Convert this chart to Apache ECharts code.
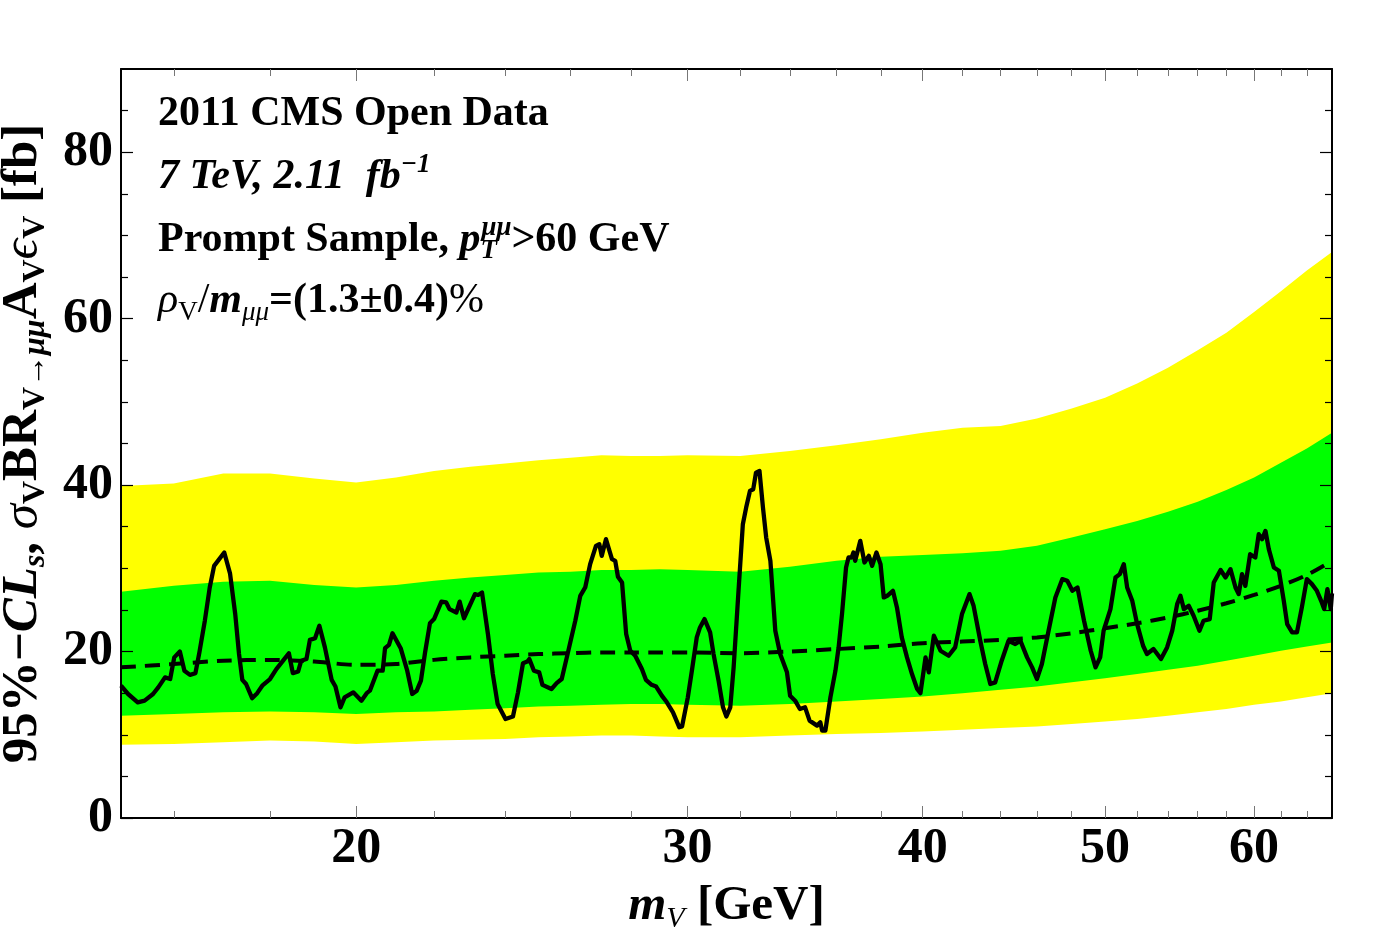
<!DOCTYPE html>
<html><head><meta charset="utf-8">
<script src="https://cdn.jsdelivr.net/npm/echarts@6/dist/echarts.min.js"></script>
<style>html,body{margin:0;padding:0;background:#fff}#c{width:1396px;height:938px}</style>
</head><body><div id="c"></div>
<script>
// ---------------- data ----------------
const bandMass   = [15,16,17,18,19,20,21,22,23,24,25,26,27,28,29,30,32,34,36,38,40,42,44,46,48,50,52,54,56,58,60,62,64,66];
const yellowLow  = [8.8,8.9,9.1,9.3,9.2,8.9,9.1,9.3,9.4,9.5,9.7,9.8,9.9,9.9,9.8,9.7,9.7,9.9,10.1,10.2,10.4,10.6,10.8,11.0,11.3,11.6,11.9,12.3,12.7,13.1,13.6,14.0,14.5,15.0];
const greenLow   = [12.3,12.5,12.7,12.8,12.7,12.5,12.7,12.8,13.0,13.2,13.4,13.5,13.6,13.7,13.7,13.6,13.5,13.7,14.0,14.3,14.6,15.0,15.4,15.8,16.3,16.8,17.3,17.8,18.3,18.9,19.5,20.1,20.6,21.1];
const greenHigh  = [27.2,27.9,28.4,28.5,28.0,27.7,28.0,28.5,28.9,29.2,29.5,29.6,29.8,29.8,29.9,29.8,29.6,30.2,30.9,31.4,31.6,31.8,32.1,32.7,33.7,34.7,35.7,36.8,38.0,39.4,40.9,42.7,44.4,46.3];
const yellowHigh = [39.9,40.2,41.4,41.4,40.8,40.3,40.9,41.7,42.2,42.6,43.0,43.3,43.6,43.5,43.5,43.6,43.5,44.1,44.8,45.5,46.3,46.9,47.1,48.0,49.2,50.5,52.2,54.1,56.2,58.3,60.8,63.3,65.8,68.0];
const expected   = [18.1,18.5,18.9,19.0,18.8,18.4,18.5,19.0,19.3,19.5,19.7,19.8,19.9,19.9,19.9,19.9,19.8,20.0,20.3,20.6,21.0,21.2,21.4,21.7,22.2,22.8,23.4,24.1,24.9,25.8,26.8,27.9,29.2,30.9];

const obsMass = [15.00,15.13,15.31,15.44,15.60,15.70,15.83,15.93,16.01,16.12,16.21,16.32,16.43,16.51,16.62,16.72,16.81,17.02,17.14,17.25,17.33,17.40,17.48,17.61,17.72,17.83,18.00,18.14,18.29,18.42,18.51,18.63,18.70,18.82,18.90,19.02,19.12,19.25,19.41,19.50,19.62,19.72,19.93,20.13,20.26,20.34,20.53,20.66,20.72,20.82,20.91,21.12,21.29,21.42,21.54,21.65,21.76,21.89,22.00,22.20,22.33,22.42,22.61,22.70,22.82,23.13,23.22,23.33,23.50,23.64,23.78,24.01,24.23,24.38,24.53,24.66,24.72,24.86,25.02,25.12,25.40,25.56,25.72,25.88,26.15,26.31,26.47,26.63,26.82,26.93,27.01,27.15,27.35,27.46,27.55,27.69,27.83,27.97,28.14,28.37,28.51,28.71,28.87,29.07,29.25,29.47,29.70,29.80,30.01,30.16,30.34,30.46,30.63,30.84,30.97,31.16,31.33,31.46,31.61,31.74,31.93,32.10,32.23,32.38,32.51,32.62,32.76,32.90,33.03,33.20,33.40,33.60,33.88,34.01,34.22,34.42,34.64,34.83,35.15,35.29,35.37,35.51,35.73,35.95,36.09,36.24,36.42,36.53,36.67,36.75,36.83,37.06,37.25,37.45,37.60,37.80,37.99,38.14,38.30,38.57,38.76,38.99,39.24,39.48,39.73,39.89,40.14,40.30,40.55,40.88,41.29,41.62,41.97,42.36,42.57,42.92,43.18,43.45,43.71,44.06,44.43,44.80,45.08,45.45,45.73,46.00,46.28,46.66,47.05,47.45,47.74,48.04,48.34,48.73,49.13,49.42,49.70,49.91,50.33,50.64,50.91,51.16,51.37,51.69,52.00,52.38,52.63,53.05,53.54,53.94,54.28,54.61,54.83,55.06,55.39,55.72,56.12,56.40,56.83,57.11,57.59,57.94,58.29,58.65,58.88,59.12,59.36,59.71,60.09,60.34,60.59,60.84,61.09,61.47,61.85,62.22,62.48,62.86,63.23,63.61,64.00,64.40,64.79,65.18,65.37,65.63,65.90,66.00];
const obsValue = [15.9,14.9,13.9,14.1,14.9,15.7,16.9,16.7,19.3,20.0,17.7,17.2,17.4,19.9,23.7,27.7,30.3,31.9,29.4,24.5,19.7,16.6,16.1,14.4,15.0,15.9,16.7,17.9,18.9,19.8,17.4,17.6,18.9,19.1,21.4,21.6,23.1,20.5,16.6,15.8,13.3,14.5,15.1,14.1,15.0,15.3,17.7,17.7,20.4,20.8,22.2,20.4,17.7,14.9,15.3,16.5,19.9,23.4,23.9,26.0,25.9,25.1,24.7,26.0,24.0,26.9,26.8,27.1,22.1,17.3,13.7,11.9,12.2,15.1,18.6,18.8,19.1,17.7,17.5,16.0,15.5,16.2,16.7,19.3,23.7,26.7,27.7,30.5,32.7,32.9,31.5,33.5,31.1,30.9,29.0,28.3,22.1,20.1,19.5,17.9,16.6,16.0,15.8,14.7,13.9,12.7,10.9,11.0,14.5,17.7,21.7,22.9,23.9,22.3,19.7,16.5,13.3,12.2,13.3,18.1,27.3,35.3,37.3,39.3,39.5,41.5,41.7,37.3,33.7,30.9,22.5,19.7,17.5,14.7,14.1,13.1,13.3,11.7,11.1,11.5,10.5,10.5,14.5,17.7,20.5,24.5,30.1,31.3,31.3,31.9,30.9,33.3,30.7,31.5,30.3,31.9,30.5,26.5,26.7,27.3,25.3,21.7,19.3,17.3,15.5,15.0,19.3,17.5,21.9,20.1,19.5,20.5,24.5,26.9,25.5,21.3,18.5,16.1,16.3,18.9,21.3,20.9,21.3,19.3,18.1,16.7,18.5,22.5,26.5,28.7,28.5,27.3,27.7,23.7,20.1,18.1,19.3,22.5,25.1,28.9,29.3,30.5,27.7,26.1,23.3,20.7,19.7,20.3,19.1,20.5,22.5,25.7,26.7,25.1,25.5,24.3,22.5,23.7,23.9,28.3,29.8,28.9,29.9,27.7,26.9,29.3,27.9,31.7,31.3,34.1,33.5,34.5,32.3,30.1,29.7,26.1,23.3,22.3,22.3,25.3,28.7,28.1,27.3,25.9,25.1,27.5,25.1,27.0];

const xRange = [15, 66];
const yRange = [0, 90];
const xMajorTicks = [20,30,40,50,60];
const xMinorTicks = [16,18,22,24,26,28,32,34,36,38,42,44,46,48,52,54,56,58,62,64];
const yMajorTicks = [0,20,40,60,80];
const yMinorTicks = [5,10,15,25,30,35,45,50,55,65,70,75,85];

// ---------------- chart ----------------
const L = Math.log;
const FONT = '"Liberation Serif", "DejaVu Serif", serif';
const chart = echarts.init(document.getElementById('c'), null, {renderer: 'canvas'});

const pts = (xs, ys) => xs.map((m, i) => [L(m), ys[i]]);

const gridRect = {left: 121, right: 64, top: 69, bottom: 120, outerBoundsMode: 'none', containLabel: false};

function xAx(gridIndex, position, tickVals, len, showLine, showLabel) {
  return {
    type: 'value', gridIndex, position, min: L(xRange[0]), max: L(xRange[1]), z: 10,
    axisLine: {show: showLine, onZero: false, lineStyle: {color: '#000', width: 2}},
    axisTick: {show: true, inside: true, length: len, customValues: tickVals.map(L), lineStyle: {color: '#777', width: 1}},
    axisLabel: showLabel ? {show: true, customValues: tickVals.map(L), formatter: v => String(Math.round(Math.exp(v))),
      fontFamily: FONT, fontWeight: 'bold', fontSize: 50, color: '#000', margin: 6} : {show: false},
    splitLine: {show: false}
  };
}
function yAx(gridIndex, position, tickVals, len, showLine, showLabel) {
  return {
    type: 'value', gridIndex, position, min: yRange[0], max: yRange[1], z: 10,
    axisLine: {show: showLine, onZero: false, lineStyle: {color: '#000', width: 2}},
    axisTick: {show: true, inside: true, length: len, customValues: tickVals, lineStyle: {color: '#000', width: 1.2}},
    axisLabel: showLabel ? {show: true, customValues: tickVals, fontFamily: FONT, fontWeight: 'bold', fontSize: 50, color: '#000', margin: 8} : {show: false},
    splitLine: {show: false}
  };
}

const xa0 = xAx(0, 'bottom', xMajorTicks, 12, true, true);
xa0.name = '{mi|m}{sub|V}{b| [GeV]}';
xa0.nameLocation = 'middle';
xa0.nameGap = 60;
xa0.nameTextStyle = {
  fontFamily: FONT, fontSize: 48, color: '#000',
  rich: {
    mi: {fontFamily: FONT, fontSize: 49, fontWeight: 'bold', fontStyle: 'italic', lineHeight: 56},
    sub: {fontFamily: FONT, fontSize: 30, fontStyle: 'italic', verticalAlign: 'bottom', lineHeight: 30},
    b: {fontFamily: FONT, fontSize: 49, fontWeight: 'bold', lineHeight: 56}
  }
};

const ya0 = yAx(0, 'left', yMajorTicks, 12, true, true);
ya0.name = '{b|95%−}{bi|CL}{subi|s}{b|, }{gi|σ}{sub|V}{b|BR}{sub|V→}{subi|μμ}{b|A}{sub|V}{gi|ϵ}{sub|V}{b| [fb]}';
ya0.nameLocation = 'middle';
ya0.nameRotate = 90;
ya0.nameGap = 41;
ya0.nameTextStyle = {
  fontFamily: FONT, fontSize: 51, color: '#000',
  rich: {
    b: {fontFamily: FONT, fontSize: 51, fontWeight: 'bold', lineHeight: 58},
    bi: {fontFamily: FONT, fontSize: 51, fontWeight: 'bold', fontStyle: 'italic', lineHeight: 58},
    gi: {fontFamily: FONT, fontSize: 51, fontStyle: 'italic', lineHeight: 58},
    sub: {fontFamily: FONT, fontSize: 32, fontWeight: 'bold', verticalAlign: 'bottom', lineHeight: 32},
    subi: {fontFamily: FONT, fontSize: 32, fontWeight: 'bold', fontStyle: 'italic', verticalAlign: 'bottom', lineHeight: 32}
  }
};

// Bands: each edge filled down to the axis, drawn top edge first, so the
// lower edges paint over the upper fills (white paints the region under the 2-sigma band).
const bandSeries = (name, vals, color, z) => ({
  type: 'line', name, xAxisIndex: 0, yAxisIndex: 0, symbol: 'none', silent: true, z,
  data: pts(bandMass, vals), lineStyle: {width: 0, opacity: 0},
  areaStyle: {color, opacity: 1, origin: 'start'}
});

const option = {
  backgroundColor: '#fff',
  animation: false,
  grid: [Object.assign({}, gridRect), Object.assign({}, gridRect)],
  xAxis: [
    xa0,
    xAx(0, 'top', xMajorTicks, 12, true, false),
    xAx(1, 'bottom', xMinorTicks, 7, false, false),
    xAx(1, 'top', xMinorTicks, 7, false, false)
  ],
  yAxis: [
    ya0,
    yAx(0, 'right', yMajorTicks, 12, true, false),
    yAx(1, 'left', yMinorTicks, 7, false, false),
    yAx(1, 'right', yMinorTicks, 7, false, false)
  ],
  series: [
    bandSeries('2σ high', yellowHigh, '#ffff00', 1),
    bandSeries('1σ high', greenHigh, '#00ff00', 1.1),
    bandSeries('1σ low', greenLow, '#ffff00', 1.2),
    bandSeries('2σ low', yellowLow, '#ffffff', 1.3),
    {type: 'line', name: 'expected', xAxisIndex: 0, yAxisIndex: 0, symbol: 'none', silent: true, smooth: 0.3,
      data: pts(bandMass, expected), lineStyle: {color: '#000', width: 4, type: [15, 9]}, z: 4},
    {type: 'line', name: 'observed', xAxisIndex: 0, yAxisIndex: 0, symbol: 'none', silent: true,
      data: pts(obsMass, obsValue), lineStyle: {color: '#000', width: 4.3, join: 'round'}, z: 5}
  ],
  graphic: [
    {type: 'text', left: 158, top: 93, z: 20, style: {
      text: '2011 CMS Open Data', font: 'bold 42px ' + FONT, fill: '#000'}},
    {type: 'text', left: 158, top: 152, z: 20, style: {
      text: '{bi|7 TeV, 2.11  fb}{sup|−1}', fill: '#000',
      rich: {bi: {font: 'italic bold 42px ' + FONT, lineHeight: 50}, sup: {font: 'italic bold 27px ' + FONT, verticalAlign: 'top', lineHeight: 27}}}},
    {type: 'text', left: 158, top: 215, z: 20, style: {
      text: '{b|Prompt Sample, }{bi|p}{sub|T}{sup|μμ}{b|>60 GeV}', fill: '#000',
      rich: {b: {font: 'bold 42px ' + FONT, lineHeight: 50}, bi: {font: 'italic bold 42px ' + FONT, lineHeight: 50},
        sub: {font: 'italic bold 27px ' + FONT, verticalAlign: 'bottom', lineHeight: 27, width: 1},
        sup: {font: 'italic bold 27px ' + FONT, verticalAlign: 'top', lineHeight: 27}}}},
    {type: 'text', left: 158, top: 280, z: 20, style: {
      text: '{gi|ρ}{sub|V}{n|/}{bi|m}{subi|μμ}{b|=(1.3±0.4)}{n|%}', fill: '#000',
      rich: {gi: {font: 'italic 42px ' + FONT, lineHeight: 50}, n: {font: '42px ' + FONT, lineHeight: 50},
        b: {font: 'bold 42px ' + FONT, lineHeight: 50}, bi: {font: 'italic bold 42px ' + FONT, lineHeight: 50},
        sub: {font: '27px ' + FONT, verticalAlign: 'bottom', lineHeight: 27},
        subi: {font: 'italic 27px ' + FONT, verticalAlign: 'bottom', lineHeight: 27}}}}
  ]
};
chart.setOption(option);
</script></body></html>
